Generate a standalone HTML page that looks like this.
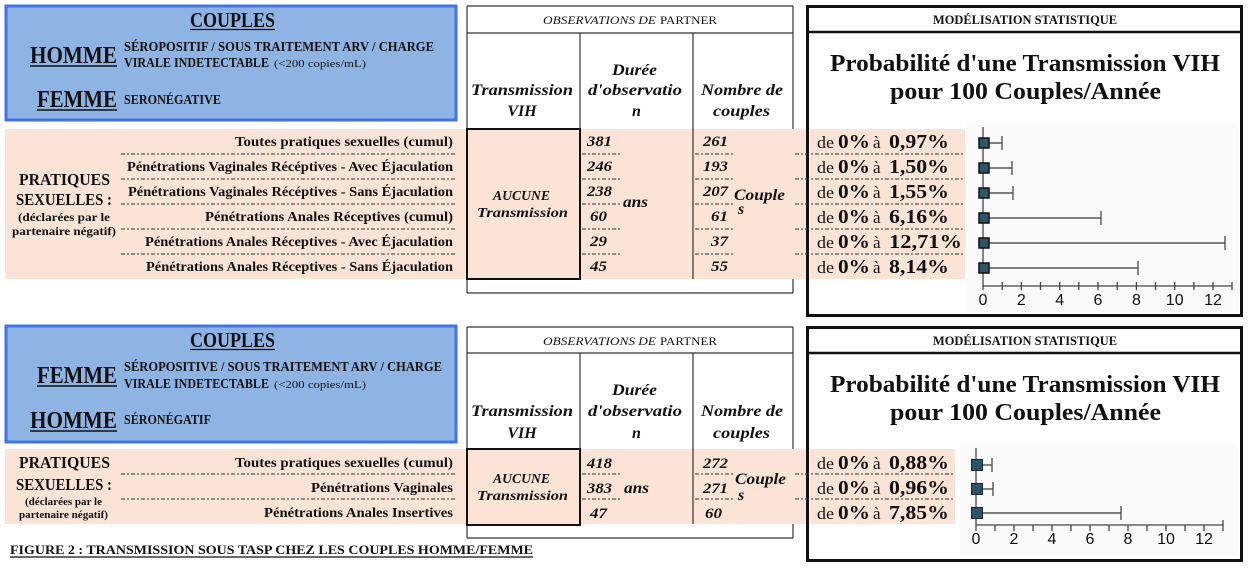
<!DOCTYPE html>
<html><head><meta charset="utf-8"><style>
html,body{margin:0;padding:0;background:#fff;}
svg{display:block;}
text{font-family:"Liberation Serif",serif;fill:#111;}
.b{font-weight:bold;}
.bi{font-weight:bold;font-style:italic;}
.s{font-family:"Liberation Sans",sans-serif;}
</style></head><body>
<svg width="1250" height="568" viewBox="0 0 1250 568" xmlns="http://www.w3.org/2000/svg">
<rect width="1250" height="568" fill="#fff"/>

<!-- ================= TOP SECTION ================= -->
<rect x="6" y="6" width="450" height="114" fill="#8eb4e3" stroke="#3f73ea" stroke-width="3"/>
<text x="190" y="27" class="b" font-size="21" textLength="85" lengthAdjust="spacingAndGlyphs">COUPLES</text>
<line x1="190" y1="29.5" x2="275" y2="29.5" stroke="#111" stroke-width="1.3"/>
<text x="30" y="63" class="b" font-size="24" textLength="87" lengthAdjust="spacingAndGlyphs">HOMME</text>
<line x1="30" y1="66" x2="117" y2="66" stroke="#111" stroke-width="1.5"/>
<text x="37" y="107" class="b" font-size="24" textLength="80" lengthAdjust="spacingAndGlyphs">FEMME</text>
<line x1="37" y1="110" x2="117" y2="110" stroke="#111" stroke-width="1.5"/>
<text x="124" y="51" class="b" font-size="13.5" textLength="310" lengthAdjust="spacingAndGlyphs">SÉROPOSITIF / SOUS TRAITEMENT ARV / CHARGE</text>
<text x="124" y="67" class="b" font-size="13.5" textLength="145" lengthAdjust="spacingAndGlyphs">VIRALE INDETECTABLE</text>
<text x="274" y="67" font-size="11" textLength="92" lengthAdjust="spacingAndGlyphs">(&lt;200 copies/mL)</text>
<text x="124" y="104" class="b" font-size="13.5" textLength="97" lengthAdjust="spacingAndGlyphs">SERONÉGATIVE</text>

<rect x="5" y="129" width="801" height="150" fill="#fbe4d5"/>
<rect x="810" y="129" width="155" height="150" fill="#fbe4d5"/>

<text x="19" y="185" class="b" font-size="17" textLength="91" lengthAdjust="spacingAndGlyphs">PRATIQUES</text>
<text x="16" y="205" class="b" font-size="17" textLength="96" lengthAdjust="spacingAndGlyphs">SEXUELLES :</text>
<text x="18" y="221" class="b" font-size="11.5" textLength="92" lengthAdjust="spacingAndGlyphs">(déclarées par le</text>
<text x="12" y="235" class="b" font-size="11.5" textLength="104" lengthAdjust="spacingAndGlyphs">partenaire négatif)</text>

<g text-anchor="end" font-size="13.5">
<text x="453" y="146" class="b" textLength="218" lengthAdjust="spacingAndGlyphs">Toutes pratiques sexuelles (cumul)</text>
<text x="453" y="171" class="b" textLength="326" lengthAdjust="spacingAndGlyphs">Pénétrations Vaginales Récéptives - Avec Éjaculation</text>
<text x="453" y="196" class="b" textLength="325" lengthAdjust="spacingAndGlyphs">Pénétrations Vaginales Récéptives - Sans Éjaculation</text>
<text x="453" y="221" class="b" textLength="248" lengthAdjust="spacingAndGlyphs">Pénétrations Anales Réceptives (cumul)</text>
<text x="453" y="246" class="b" textLength="308" lengthAdjust="spacingAndGlyphs">Pénétrations Anales Réceptives - Avec Éjaculation</text>
<text x="453" y="271" class="b" textLength="307" lengthAdjust="spacingAndGlyphs">Pénétrations Anales Réceptives - Sans Éjaculation</text>
</g>
<g stroke="#333" stroke-width="1" stroke-dasharray="4 2 2 2">
<line x1="121" y1="154" x2="455" y2="154"/>
<line x1="121" y1="179" x2="455" y2="179"/>
<line x1="121" y1="204" x2="455" y2="204"/>
<line x1="121" y1="229" x2="455" y2="229"/>
<line x1="121" y1="254" x2="455" y2="254"/>
</g>

<g stroke="#333" stroke-width="1.2" fill="none">
<line x1="467" y1="6" x2="793" y2="6"/>
<line x1="467" y1="33" x2="793" y2="33"/>
<line x1="467" y1="6" x2="467" y2="293"/>
<line x1="793" y1="6" x2="793" y2="129"/>
<line x1="793" y1="279" x2="793" y2="293"/>
<line x1="467" y1="293" x2="793" y2="293"/>
<line x1="580" y1="33" x2="580" y2="129"/>
<line x1="693" y1="33" x2="693" y2="279"/>
</g>
<rect x="467" y="129" width="113" height="150" fill="none" stroke="#111" stroke-width="2"/>
<text x="543" y="24" font-size="11.5" font-style="italic" textLength="113" lengthAdjust="spacingAndGlyphs">OBSERVATIONS DE</text>
<text x="660" y="24" font-size="11.5" textLength="57" lengthAdjust="spacingAndGlyphs">PARTNER</text>
<text x="471" y="95" class="bi" font-size="16" textLength="102" lengthAdjust="spacingAndGlyphs">Transmission</text>
<text x="522" y="116" class="bi" font-size="16" text-anchor="middle">VIH</text>
<text x="612" y="75" class="bi" font-size="16" textLength="45" lengthAdjust="spacingAndGlyphs">Durée</text>
<text x="588" y="95" class="bi" font-size="16" textLength="94" lengthAdjust="spacingAndGlyphs">d'observatio</text>
<text x="632" y="116" class="bi" font-size="16">n</text>
<text x="701" y="95" class="bi" font-size="16" textLength="82" lengthAdjust="spacingAndGlyphs">Nombre de</text>
<text x="713" y="116" class="bi" font-size="16" textLength="57" lengthAdjust="spacingAndGlyphs">couples</text>

<text x="493" y="200" class="bi" font-size="14" textLength="57" lengthAdjust="spacingAndGlyphs">AUCUNE</text>
<text x="477" y="217" class="bi" font-size="14" textLength="91" lengthAdjust="spacingAndGlyphs">Transmission</text>

<g font-size="15">
<text x="587" y="146" class="bi" textLength="25" lengthAdjust="spacingAndGlyphs">381</text>
<text x="587" y="171" class="bi" textLength="25" lengthAdjust="spacingAndGlyphs">246</text>
<text x="587" y="196" class="bi" textLength="25" lengthAdjust="spacingAndGlyphs">238</text>
<text x="590" y="221" class="bi" textLength="17" lengthAdjust="spacingAndGlyphs">60</text>
<text x="590" y="246" class="bi" textLength="17" lengthAdjust="spacingAndGlyphs">29</text>
<text x="590" y="271" class="bi" textLength="17" lengthAdjust="spacingAndGlyphs">45</text>
</g>
<g font-size="15" text-anchor="end">
<text x="728" y="146" class="bi" textLength="25" lengthAdjust="spacingAndGlyphs">261</text>
<text x="728" y="171" class="bi" textLength="25" lengthAdjust="spacingAndGlyphs">193</text>
<text x="728" y="196" class="bi" textLength="25" lengthAdjust="spacingAndGlyphs">207</text>
<text x="728" y="221" class="bi" textLength="17" lengthAdjust="spacingAndGlyphs">61</text>
<text x="728" y="246" class="bi" textLength="17" lengthAdjust="spacingAndGlyphs">37</text>
<text x="728" y="271" class="bi" textLength="17" lengthAdjust="spacingAndGlyphs">55</text>
</g>
<g stroke="#333" stroke-width="1" stroke-dasharray="4 2 2 2">
<line x1="582" y1="154" x2="622" y2="154"/><line x1="582" y1="179" x2="622" y2="179"/>
<line x1="582" y1="204" x2="622" y2="204"/><line x1="582" y1="229" x2="622" y2="229"/>
<line x1="582" y1="254" x2="622" y2="254"/>
<line x1="695" y1="154" x2="733" y2="154"/><line x1="695" y1="179" x2="733" y2="179"/>
<line x1="695" y1="204" x2="733" y2="204"/><line x1="695" y1="229" x2="733" y2="229"/>
<line x1="695" y1="254" x2="733" y2="254"/>
</g>
<text x="623" y="207" class="bi" font-size="16" textLength="25" lengthAdjust="spacingAndGlyphs">ans</text>
<text x="734" y="200" class="bi" font-size="16" textLength="51" lengthAdjust="spacingAndGlyphs">Couple</text>
<text x="738" y="214" class="bi" font-size="16">s</text>

<rect x="807.5" y="6.5" width="434" height="309" fill="none" stroke="#111" stroke-width="3"/>
<line x1="807" y1="32" x2="1242" y2="32" stroke="#111" stroke-width="2.5"/>
<rect x="810" y="129" width="155" height="150" fill="#fbe4d5"/>
<rect x="966" y="124" width="273" height="188" fill="#fafafa"/>
<text x="933" y="24" class="b" font-size="12.5" textLength="184" lengthAdjust="spacingAndGlyphs">MODÉLISATION STATISTIQUE</text>
<text x="830" y="71" class="b" font-size="24" textLength="390" lengthAdjust="spacingAndGlyphs">Probabilité d'une Transmission VIH</text>
<text x="890" y="99" class="b" font-size="24" textLength="271" lengthAdjust="spacingAndGlyphs">pour 100 Couples/Année</text>

<g stroke="#333" stroke-width="1" stroke-dasharray="4 2 2 2">
<line x1="795" y1="154" x2="965" y2="154"/><line x1="795" y1="179" x2="965" y2="179"/>
<line x1="795" y1="204" x2="965" y2="204"/><line x1="795" y1="229" x2="965" y2="229"/>
<line x1="795" y1="254" x2="965" y2="254"/>
</g>
<g>
<text x="817" y="148" font-size="17" textLength="17" lengthAdjust="spacingAndGlyphs">de</text>
<text x="838" y="148" class="b" font-size="20" textLength="32" lengthAdjust="spacingAndGlyphs">0%</text>
<text x="873" y="148" font-size="17">à</text>
<text x="889" y="148" class="b" font-size="20" textLength="60" lengthAdjust="spacingAndGlyphs">0,97%</text>

<text x="817" y="173" font-size="17" textLength="17" lengthAdjust="spacingAndGlyphs">de</text>
<text x="838" y="173" class="b" font-size="20" textLength="32" lengthAdjust="spacingAndGlyphs">0%</text>
<text x="873" y="173" font-size="17">à</text>
<text x="889" y="173" class="b" font-size="20" textLength="60" lengthAdjust="spacingAndGlyphs">1,50%</text>

<text x="817" y="198" font-size="17" textLength="17" lengthAdjust="spacingAndGlyphs">de</text>
<text x="838" y="198" class="b" font-size="20" textLength="32" lengthAdjust="spacingAndGlyphs">0%</text>
<text x="873" y="198" font-size="17">à</text>
<text x="889" y="198" class="b" font-size="20" textLength="60" lengthAdjust="spacingAndGlyphs">1,55%</text>

<text x="817" y="223" font-size="17" textLength="17" lengthAdjust="spacingAndGlyphs">de</text>
<text x="838" y="223" class="b" font-size="20" textLength="32" lengthAdjust="spacingAndGlyphs">0%</text>
<text x="873" y="223" font-size="17">à</text>
<text x="889" y="223" class="b" font-size="20" textLength="60" lengthAdjust="spacingAndGlyphs">6,16%</text>

<text x="817" y="248" font-size="17" textLength="17" lengthAdjust="spacingAndGlyphs">de</text>
<text x="838" y="248" class="b" font-size="20" textLength="32" lengthAdjust="spacingAndGlyphs">0%</text>
<text x="873" y="248" font-size="17">à</text>
<text x="889" y="248" class="b" font-size="20" textLength="73" lengthAdjust="spacingAndGlyphs">12,71%</text>

<text x="817" y="273" font-size="17" textLength="17" lengthAdjust="spacingAndGlyphs">de</text>
<text x="838" y="273" class="b" font-size="20" textLength="32" lengthAdjust="spacingAndGlyphs">0%</text>
<text x="873" y="273" font-size="17">à</text>
<text x="889" y="273" class="b" font-size="20" textLength="60" lengthAdjust="spacingAndGlyphs">8,14%</text>
</g>

<g stroke="#444" stroke-width="1.3">
<line x1="983" y1="127" x2="983" y2="290"/>
<line x1="983" y1="286" x2="1232" y2="286"/>
<line x1="1002.2" y1="282" x2="1002.2" y2="290"/>
<line x1="1021.3" y1="282" x2="1021.3" y2="290"/>
<line x1="1040.5" y1="282" x2="1040.5" y2="290"/>
<line x1="1059.7" y1="282" x2="1059.7" y2="290"/>
<line x1="1078.8" y1="282" x2="1078.8" y2="290"/>
<line x1="1098" y1="282" x2="1098" y2="290"/>
<line x1="1117.2" y1="282" x2="1117.2" y2="290"/>
<line x1="1136.4" y1="282" x2="1136.4" y2="290"/>
<line x1="1155.5" y1="282" x2="1155.5" y2="290"/>
<line x1="1174.7" y1="282" x2="1174.7" y2="290"/>
<line x1="1193.9" y1="282" x2="1193.9" y2="290"/>
<line x1="1213" y1="282" x2="1213" y2="290"/>
<line x1="1232" y1="282" x2="1232" y2="290"/>
</g>
<g stroke="#555" stroke-width="1.4">
<line x1="983" y1="143" x2="1002" y2="143"/><line x1="1002" y1="136" x2="1002" y2="150"/>
<line x1="983" y1="168" x2="1012" y2="168"/><line x1="1012" y1="161" x2="1012" y2="175"/>
<line x1="983" y1="193" x2="1013" y2="193"/><line x1="1013" y1="186" x2="1013" y2="200"/>
<line x1="983" y1="218" x2="1101" y2="218"/><line x1="1101" y1="211" x2="1101" y2="225"/>
<line x1="983" y1="243" x2="1225" y2="243"/><line x1="1225" y1="236" x2="1225" y2="250"/>
<line x1="983" y1="268" x2="1138" y2="268"/><line x1="1138" y1="261" x2="1138" y2="275"/>
</g>
<g fill="#2e5566" stroke="#111" stroke-width="1.5">
<rect x="979" y="138" width="10" height="10"/>
<rect x="979" y="163" width="10" height="10"/>
<rect x="979" y="188" width="10" height="10"/>
<rect x="979" y="213" width="10" height="10"/>
<rect x="979" y="238" width="10" height="10"/>
<rect x="979" y="263" width="10" height="10"/>
</g>
<g font-size="16" text-anchor="middle">
<text x="983" y="305" class="s">0</text>
<text x="1021.3" y="305" class="s">2</text>
<text x="1059.7" y="305" class="s">4</text>
<text x="1098" y="305" class="s">6</text>
<text x="1136.4" y="305" class="s">8</text>
<text x="1174.7" y="305" class="s">10</text>
<text x="1213" y="305" class="s">12</text>
</g>

<!-- ================= BOTTOM SECTION ================= -->
<rect x="6" y="326" width="450" height="116" fill="#8eb4e3" stroke="#3f73ea" stroke-width="3"/>
<text x="190" y="347" class="b" font-size="21" textLength="85" lengthAdjust="spacingAndGlyphs">COUPLES</text>
<line x1="190" y1="349.5" x2="275" y2="349.5" stroke="#111" stroke-width="1.3"/>
<text x="37" y="383" class="b" font-size="24" textLength="80" lengthAdjust="spacingAndGlyphs">FEMME</text>
<line x1="37" y1="386" x2="117" y2="386" stroke="#111" stroke-width="1.5"/>
<text x="30" y="428" class="b" font-size="24" textLength="87" lengthAdjust="spacingAndGlyphs">HOMME</text>
<line x1="30" y1="431" x2="117" y2="431" stroke="#111" stroke-width="1.5"/>
<text x="124" y="371" class="b" font-size="13.5" textLength="318" lengthAdjust="spacingAndGlyphs">SÉROPOSITIVE / SOUS TRAITEMENT ARV / CHARGE</text>
<text x="124" y="388" class="b" font-size="13.5" textLength="145" lengthAdjust="spacingAndGlyphs">VIRALE INDETECTABLE</text>
<text x="274" y="388" font-size="11" textLength="92" lengthAdjust="spacingAndGlyphs">(&lt;200 copies/mL)</text>
<text x="124" y="424" class="b" font-size="13.5" textLength="87" lengthAdjust="spacingAndGlyphs">SÉRONÉGATIF</text>

<rect x="5" y="449" width="801" height="75" fill="#fbe4d5"/>
<rect x="810" y="449" width="145" height="75" fill="#fbe4d5"/>

<text x="19" y="468" class="b" font-size="17" textLength="91" lengthAdjust="spacingAndGlyphs">PRATIQUES</text>
<text x="16" y="490" class="b" font-size="17" textLength="96" lengthAdjust="spacingAndGlyphs">SEXUELLES :</text>
<text x="25" y="505" class="b" font-size="10" textLength="77" lengthAdjust="spacingAndGlyphs">(déclarées par le</text>
<text x="19" y="518" class="b" font-size="10" textLength="89" lengthAdjust="spacingAndGlyphs">partenaire négatif)</text>

<g text-anchor="end">
<text x="453" y="467" class="b" font-size="13.5" textLength="218" lengthAdjust="spacingAndGlyphs">Toutes pratiques sexuelles (cumul)</text>
<text x="453" y="492" class="b" font-size="13.5" textLength="142" lengthAdjust="spacingAndGlyphs">Pénétrations Vaginales</text>
<text x="453" y="517" class="b" font-size="13.5" textLength="189" lengthAdjust="spacingAndGlyphs">Pénétrations Anales Insertives</text>
</g>
<g stroke="#333" stroke-width="1" stroke-dasharray="4 2 2 2">
<line x1="121" y1="474" x2="455" y2="474"/>
<line x1="121" y1="499" x2="455" y2="499"/>
</g>

<text x="10" y="554" class="b" font-size="13" textLength="523" lengthAdjust="spacingAndGlyphs">FIGURE 2 :  TRANSMISSION SOUS TASP CHEZ LES COUPLES HOMME/FEMME</text>
<line x1="10" y1="557" x2="533" y2="557" stroke="#111" stroke-width="1.2"/>

<g stroke="#333" stroke-width="1.2" fill="none">
<line x1="467" y1="327" x2="793" y2="327"/>
<line x1="467" y1="353" x2="793" y2="353"/>
<line x1="467" y1="327" x2="467" y2="538"/>
<line x1="793" y1="327" x2="793" y2="449"/>
<line x1="793" y1="524" x2="793" y2="538"/>
<line x1="467" y1="538" x2="793" y2="538"/>
<line x1="580" y1="353" x2="580" y2="449"/>
<line x1="693" y1="353" x2="693" y2="524"/>
</g>
<rect x="467" y="449" width="113" height="76" fill="none" stroke="#111" stroke-width="2"/>
<text x="543" y="345" font-size="11.5" font-style="italic" textLength="113" lengthAdjust="spacingAndGlyphs">OBSERVATIONS DE</text>
<text x="660" y="345" font-size="11.5" textLength="57" lengthAdjust="spacingAndGlyphs">PARTNER</text>
<text x="471" y="416" class="bi" font-size="16" textLength="102" lengthAdjust="spacingAndGlyphs">Transmission</text>
<text x="522" y="438" class="bi" font-size="16" text-anchor="middle">VIH</text>
<text x="612" y="395" class="bi" font-size="16" textLength="45" lengthAdjust="spacingAndGlyphs">Durée</text>
<text x="588" y="416" class="bi" font-size="16" textLength="94" lengthAdjust="spacingAndGlyphs">d'observatio</text>
<text x="632" y="438" class="bi" font-size="16">n</text>
<text x="701" y="416" class="bi" font-size="16" textLength="82" lengthAdjust="spacingAndGlyphs">Nombre de</text>
<text x="713" y="438" class="bi" font-size="16" textLength="57" lengthAdjust="spacingAndGlyphs">couples</text>

<text x="493" y="483" class="bi" font-size="14" textLength="57" lengthAdjust="spacingAndGlyphs">AUCUNE</text>
<text x="477" y="500" class="bi" font-size="14" textLength="91" lengthAdjust="spacingAndGlyphs">Transmission</text>

<text x="587" y="468" class="bi" font-size="15" textLength="25" lengthAdjust="spacingAndGlyphs">418</text>
<text x="587" y="493" class="bi" font-size="15" textLength="25" lengthAdjust="spacingAndGlyphs">383</text>
<text x="590" y="518" class="bi" font-size="15" textLength="17" lengthAdjust="spacingAndGlyphs">47</text>
<g text-anchor="end">
<text x="728" y="468" class="bi" font-size="15" textLength="25" lengthAdjust="spacingAndGlyphs">272</text>
<text x="728" y="493" class="bi" font-size="15" textLength="25" lengthAdjust="spacingAndGlyphs">271</text>
<text x="722" y="518" class="bi" font-size="15" textLength="17" lengthAdjust="spacingAndGlyphs">60</text>
</g>
<g stroke="#333" stroke-width="1" stroke-dasharray="4 2 2 2">
<line x1="582" y1="474" x2="622" y2="474"/><line x1="582" y1="499" x2="622" y2="499"/>
<line x1="695" y1="474" x2="733" y2="474"/><line x1="695" y1="499" x2="733" y2="499"/>
</g>
<text x="624" y="493" class="bi" font-size="16" textLength="25" lengthAdjust="spacingAndGlyphs">ans</text>
<text x="735" y="484" class="bi" font-size="16" textLength="51" lengthAdjust="spacingAndGlyphs">Couple</text>
<text x="738" y="500" class="bi" font-size="16">s</text>

<rect x="807.5" y="327.5" width="434" height="233" fill="none" stroke="#111" stroke-width="3"/>
<line x1="807" y1="353" x2="1242" y2="353" stroke="#111" stroke-width="2.5"/>
<rect x="960" y="445" width="278" height="110" fill="#fafafa"/>
<text x="933" y="345" class="b" font-size="12.5" textLength="184" lengthAdjust="spacingAndGlyphs">MODÉLISATION STATISTIQUE</text>
<text x="830" y="392" class="b" font-size="24" textLength="390" lengthAdjust="spacingAndGlyphs">Probabilité d'une Transmission VIH</text>
<text x="890" y="420" class="b" font-size="24" textLength="271" lengthAdjust="spacingAndGlyphs">pour 100 Couples/Année</text>

<g stroke="#333" stroke-width="1" stroke-dasharray="4 2 2 2">
<line x1="795" y1="474" x2="955" y2="474"/><line x1="795" y1="499" x2="955" y2="499"/>
</g>
<text x="817" y="469" font-size="17" textLength="17" lengthAdjust="spacingAndGlyphs">de</text>
<text x="838" y="469" class="b" font-size="20" textLength="32" lengthAdjust="spacingAndGlyphs">0%</text>
<text x="873" y="469" font-size="17">à</text>
<text x="889" y="469" class="b" font-size="20" textLength="60" lengthAdjust="spacingAndGlyphs">0,88%</text>
<text x="817" y="494" font-size="17" textLength="17" lengthAdjust="spacingAndGlyphs">de</text>
<text x="838" y="494" class="b" font-size="20" textLength="32" lengthAdjust="spacingAndGlyphs">0%</text>
<text x="873" y="494" font-size="17">à</text>
<text x="889" y="494" class="b" font-size="20" textLength="60" lengthAdjust="spacingAndGlyphs">0,96%</text>
<text x="817" y="519" font-size="17" textLength="17" lengthAdjust="spacingAndGlyphs">de</text>
<text x="838" y="519" class="b" font-size="20" textLength="32" lengthAdjust="spacingAndGlyphs">0%</text>
<text x="873" y="519" font-size="17">à</text>
<text x="889" y="519" class="b" font-size="20" textLength="60" lengthAdjust="spacingAndGlyphs">7,85%</text>

<g stroke="#444" stroke-width="1.3">
<line x1="976" y1="448" x2="976" y2="531"/>
<line x1="976" y1="525" x2="1223" y2="525"/>
<line x1="995" y1="525" x2="995" y2="531"/>
<line x1="1014" y1="525" x2="1014" y2="531"/>
<line x1="1033" y1="525" x2="1033" y2="531"/>
<line x1="1052" y1="525" x2="1052" y2="531"/>
<line x1="1071" y1="525" x2="1071" y2="531"/>
<line x1="1090" y1="525" x2="1090" y2="531"/>
<line x1="1109" y1="525" x2="1109" y2="531"/>
<line x1="1128" y1="525" x2="1128" y2="531"/>
<line x1="1147" y1="525" x2="1147" y2="531"/>
<line x1="1166" y1="525" x2="1166" y2="531"/>
<line x1="1185" y1="525" x2="1185" y2="531"/>
<line x1="1204" y1="525" x2="1204" y2="531"/>
<line x1="1223" y1="520" x2="1223" y2="531"/>
</g>
<g stroke="#555" stroke-width="1.4">
<line x1="977" y1="465" x2="992" y2="465"/><line x1="992" y1="458" x2="992" y2="472"/>
<line x1="977" y1="489" x2="993" y2="489"/><line x1="993" y1="482" x2="993" y2="496"/>
<line x1="977" y1="513" x2="1121" y2="513"/><line x1="1121" y1="506" x2="1121" y2="520"/>
</g>
<g fill="#2b5366" stroke="#1a2a30" stroke-width="1">
<rect x="971.5" y="459.5" width="11" height="11"/>
<rect x="971.5" y="483.5" width="11" height="11"/>
<rect x="971.5" y="507.5" width="11" height="11"/>
</g>
<g text-anchor="middle">
<text x="976" y="544" class="s" font-size="16">0</text>
<text x="1014" y="544" class="s" font-size="16">2</text>
<text x="1052" y="544" class="s" font-size="16">4</text>
<text x="1090" y="544" class="s" font-size="16">6</text>
<text x="1128" y="544" class="s" font-size="16">8</text>
<text x="1166" y="544" class="s" font-size="16">10</text>
<text x="1204" y="544" class="s" font-size="16">12</text>
</g>
</svg>
</body></html>
